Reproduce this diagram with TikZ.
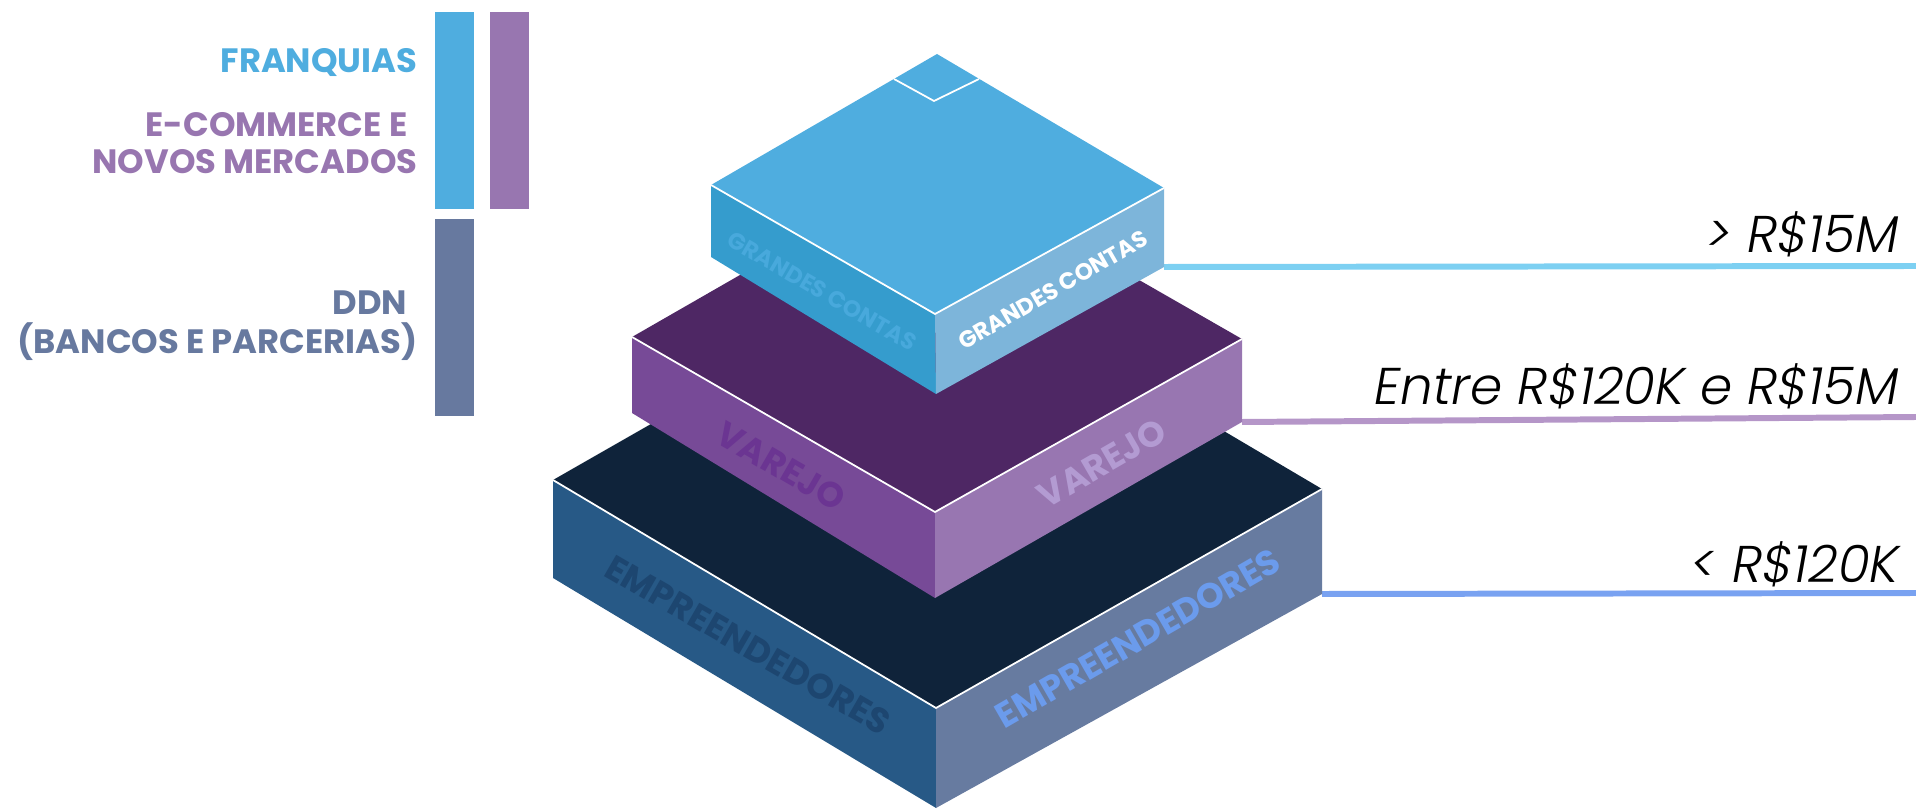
\documentclass[tikz,border=0pt]{standalone}
\usepackage{fontspec}
\setmainfont{Poppins}
\newfontfamily\boldpop{Poppins Bold}
\newfontfamily\lightpop{Poppins Light Italic}
\usepackage{tikz}
\usetikzlibrary{positioning}

\definecolor{gcTop}{HTML}{4FADDF}
\definecolor{gcLeft}{HTML}{359CCD}
\definecolor{gcRight}{HTML}{7DB5DA}
\definecolor{gcText}{HTML}{48A9DC}
\definecolor{vaTop}{HTML}{4E2764}
\definecolor{vaLeft}{HTML}{774A97}
\definecolor{vaRight}{HTML}{9876B1}
\definecolor{vaTextL}{HTML}{6B3592}
\definecolor{vaTextR}{HTML}{B39BD2}
\definecolor{emTop}{HTML}{0F233A}
\definecolor{emLeft}{HTML}{275986}
\definecolor{emRight}{HTML}{677BA0}
\definecolor{emTextL}{HTML}{1D4670}
\definecolor{emTextR}{HTML}{6B9BEC}
\definecolor{lineGC}{HTML}{7DD0F2}
\definecolor{lineVA}{HTML}{B596C8}
\definecolor{lineEM}{HTML}{79A2F1}
\definecolor{legBlue}{HTML}{4FADDF}
\definecolor{legPurple}{HTML}{9876B0}
\definecolor{legSlate}{HTML}{67799F}

\tikzset{
  facelab/.style={font=\boldpop\fontsize{10}{12}\selectfont, inner sep=0pt},
  smallfacelab/.style={font=\boldpop\fontsize{6.6}{8}\selectfont, inner sep=0pt},
  leglab/.style={font=\boldpop\fontsize{9.6}{11}\selectfont, inner sep=0pt, anchor=base east},
  vallab/.style={font=\lightpop\fontsize{14.7}{17}\selectfont, inner sep=0pt, anchor=base east},
  valline/.style={line width=1.7pt},
  edge/.style={white, line width=0.5pt}
}

\begin{document}
\begin{tikzpicture}[x=0.01cm, y=-0.01cm]
\useasboundingbox (0,0) rectangle (1916,810);

% legend bars
\fill[legBlue] (435,12) rectangle (474,209);
\fill[legPurple] (490,12) rectangle (529,209);
\fill[legSlate] (435,219) rectangle (474,416);

% legend texts
\node[leglab, text=legBlue] (franq) at (418,73) {FRANQUIAS};
\node[leglab, text=legPurple] (ecom) at (408,137) {E-COMMERCE E};
\node[leglab, text=legPurple] (novos) at (418,174) {NOVOS MERCADOS};
\node[leglab, text=legSlate] (ddn) at (408,315) {DDN};
\node[leglab, text=legSlate] (bancos) at (418,354) {(BANCOS E PARCERIAS)};

% value lines
\coordinate (gc-br) at (1164,267);
\coordinate (gc-end) at (1916,266);
\coordinate (va-br) at (1242,422);
\coordinate (va-end) at (1916,417);
\coordinate (em-br) at (1322,594);
\coordinate (em-end) at (1916,593);
\draw[valline, lineGC] (gc-br) -- (gc-end);
\draw[valline, lineVA] (va-br) -- (va-end);
\draw[valline, lineEM] (em-br) -- (em-end);

\node[vallab] (gcval) at (1900,253) {> R\$15M};
\node[vallab] (vaval) at (1900,405) {Entre R\$120K e R\$15M};
\node[vallab] (emval) at (1900,583) {< R\$120K};

% bottom block
\fill[emLeft] (553,480) -- (936,708) -- (936,808) -- (553,578) -- cycle;
\fill[emRight] (936,708) -- (1322,489) -- (1322,594) -- (936,808) -- cycle;
\fill[emTop] (553,480) -- (936,261) -- (1322,489) -- (936,708) -- cycle;
\draw[edge] (553,480) -- (936,708) -- (1322,489);
\node[facelab, text=emTextL, rotate=-30] (emleft) at (748,645) {EMPREENDEDORES};
\node[facelab, text=emTextR, rotate=30] (emright) at (1138,638) {EMPREENDEDORES};

% middle block
\fill[vaLeft] (632,337) -- (935,512) -- (935,598) -- (632,413) -- cycle;
\fill[vaRight] (935,512) -- (1242,339) -- (1242,422) -- (935,598) -- cycle;
\fill[vaTop] (632,337) -- (935,163) -- (1242,339) -- (935,512) -- cycle;
\draw[edge] (632,337) -- (935,512) -- (1242,339);
\node[facelab, text=vaTextL, rotate=-30] (valeft) at (781,466) {VAREJO};
\node[facelab, text=vaTextR, rotate=30] (varight) at (1102,463) {VAREJO};

% top block
\fill[gcLeft] (711,185) -- (935,314) -- (936,394) -- (711,257) -- cycle;
\fill[gcRight] (935,314) -- (1164,188) -- (1164,267) -- (936,394) -- cycle;
\fill[gcTop] (711,185) -- (937,54) -- (1164,188) -- (935,314) -- cycle;
\draw[edge] (711,185) -- (935,314) -- (1164,188);
\draw[edge] (894,79) -- (934,101) -- (979,79);
\node[smallfacelab, text=gcText, rotate=-30] (gcleft) at (822,291) {GRANDES CONTAS};
\node[smallfacelab, text=white, rotate=30] (gcright) at (1053,290) {GRANDES CONTAS};
\end{tikzpicture}
\end{document}
